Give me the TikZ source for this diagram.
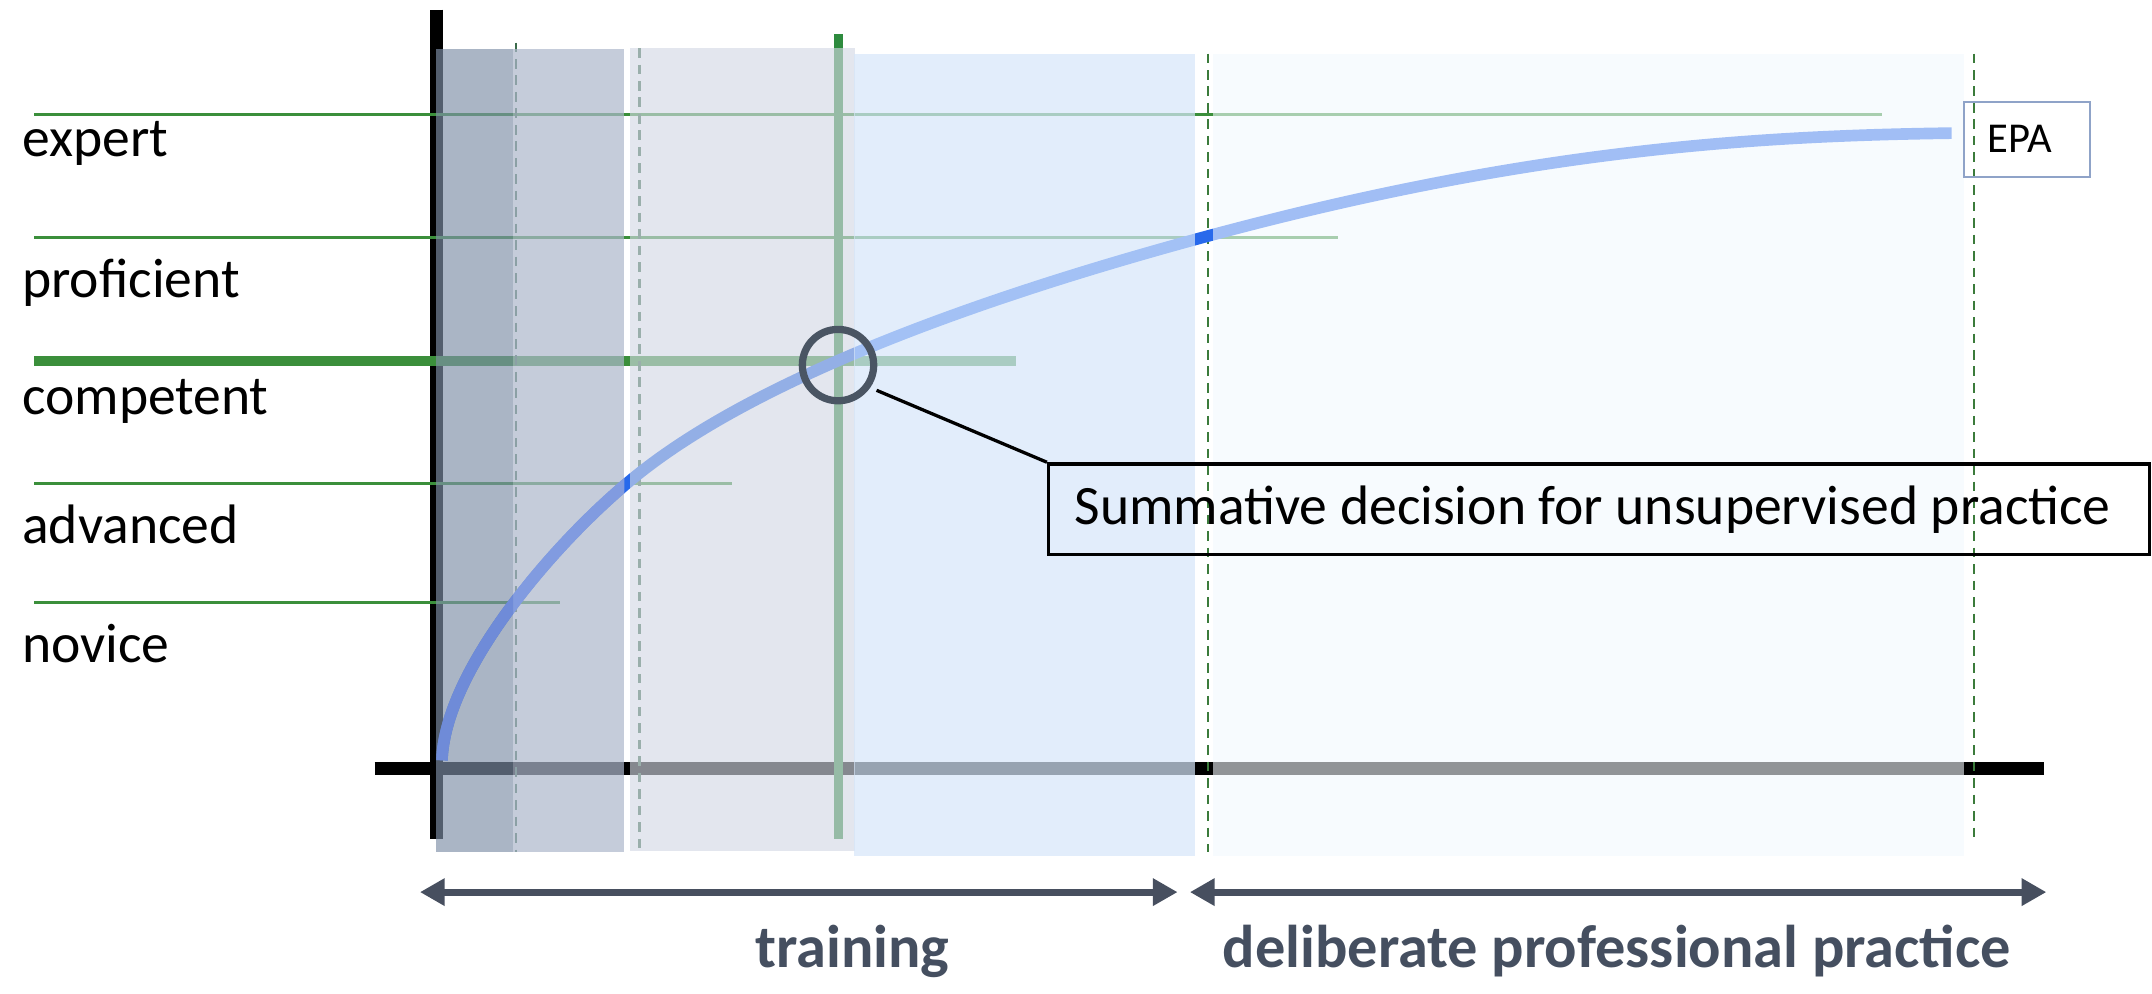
\documentclass[tikz,border=0pt]{standalone}
\usepackage{fontspec}
\setmainfont{Carlito}
\usetikzlibrary{arrows.meta}
\definecolor{lvgreen}{HTML}{3B8F3B}
\definecolor{dgreen}{HTML}{2E8B3E}
\definecolor{dashgreen}{HTML}{3B7B3B}
\definecolor{dashgray}{HTML}{3B6B4B}
\definecolor{curveblue}{HTML}{2869EB}
\definecolor{curveA}{HTML}{6F8BD8}
\definecolor{curveB}{HTML}{819BE0}
\definecolor{ovA}{HTML}{7E8FA7}
\definecolor{ovB}{HTML}{ADB7CB}
\definecolor{ovC}{HTML}{D3D8E4}
\definecolor{ovD}{HTML}{D6E6FA}
\definecolor{ovE}{HTML}{F2F8FD}
\definecolor{ringgray}{HTML}{4A5563}
\definecolor{epaedge}{HTML}{8FA3C8}
\definecolor{arrowslate}{HTML}{474F5F}
\definecolor{phasetext}{HTML}{454F60}
\newcommand\lcurvepath{(322,554) .. controls (324,490) and (400,400) .. (457,352) .. controls (550,273) and (730,212.5) .. (880,172) .. controls (1110,110) and (1272,99) .. (1422,97)}
\begin{document}
\begin{tikzpicture}[x=1pt,y=-1pt,
  axisline/.style={draw=black, line width=9.7pt},
  lvl/.style={draw=lvgreen, line width=2.2pt},
  lvlthick/.style={draw=lvgreen, line width=7pt},
  dashA/.style={draw=dashgray, line width=1.6pt, dash pattern=on 7pt off 5pt},
  dashB/.style={draw=dashgreen, line width=1.6pt, dash pattern=on 7pt off 5pt},
  curve/.style={draw=curveblue, line width=8.5pt},
  lbl/.style={anchor=base west, font=\fontsize{40.5}{46}\selectfont, text=black, inner sep=0pt},
  phase/.style={anchor=base, font=\fontsize{44}{50}\selectfont\bfseries, text=phasetext, inner sep=0pt},
  span/.style={draw=arrowslate, line width=5pt, {Triangle[length=18pt,width=19pt]}-{Triangle[length=18pt,width=19pt]}}
]
\useasboundingbox (0,0) rectangle (1568,724);

% ---------- base layer ----------
\draw[axisline] (273,560) -- (1489,560);
\draw[axisline] (318.2,7) -- (318.2,611);

% level lines
\draw[lvl] (25,83.3) -- (1371,83.3);
\draw[lvl] (25,173.2) -- (975,173.2);
\draw[lvlthick] (25,263) -- (740,263);
\draw[lvl] (25,352) -- (533,352);
\draw[lvl] (25,439) -- (408,439);

% dashed guides
\draw[dashA] (376,31) -- (376,621);
\draw[dashA] (466,35) -- (466,621);
\draw[dashB] (880,39) -- (880,621);
\draw[dashB] (1438,39) -- (1438,614);

% decision line
\draw[draw=dgreen, line width=6pt] (611,25) -- (611,611);

% learning curve
\draw[curve] \lcurvepath;

% ---------- translucent phase overlays ----------
\fill[ovA, fill opacity=0.66] (318,36) rectangle (374,621);
\fill[ovB, fill opacity=0.71] (374,36) rectangle (455,621);
\fill[ovC, fill opacity=0.63] (459,35) rectangle (623,620);
\fill[ovD, fill opacity=0.71] (622,39) rectangle (871,624);
\fill[ovE, fill opacity=0.60] (884,39) rectangle (1431,624);

% curve tint inside the darker phases
\begin{scope}
  \clip (318,36) rectangle (374,621);
  \draw[curve, draw=curveA] \lcurvepath;
\end{scope}
\begin{scope}
  \clip (374,36) rectangle (455,621);
  \draw[curve, draw=curveB] \lcurvepath;
\end{scope}

% ---------- labels ----------
\node[lbl] (lexp) at (16,114) {expert};
\node[lbl] (lpro) at (16,217) {proficient};
\node[lbl] (lcom) at (16,302) {competent};
\node[lbl] (ladv) at (16,396) {advanced};
\node[lbl] (lnov) at (16,483) {novice};

% EPA box
\node[draw=epaedge, line width=1.5pt, minimum width=92pt, minimum height=55pt, inner sep=0pt,
      font=\fontsize{31}{35}\selectfont] (epa) at (1477,101.5) {EPA\hspace*{11pt}};

% callout
\node[draw=ringgray, line width=5.3pt, circle, minimum size=52pt, inner sep=0pt] (dec) at (610.6,266) {};
\node[draw=black, line width=2.4pt, minimum width=802pt, minimum height=66pt, inner sep=0pt,
      font=\fontsize{40.5}{46}\selectfont] (sum) at (1165,371) {Summative decision for unsupervised practice\hspace*{9pt}};
\draw[black, line width=2.4pt, shorten <=5pt] (dec.-35) -- (sum.north west);

% phase spans
\coordinate (trA) at (306,650);
\coordinate (trB) at (858,650);
\coordinate (dpA) at (867,650);
\coordinate (dpB) at (1491,650);
\draw[span] (trA) -- (trB);
\draw[span] (dpA) -- (dpB);
\node[phase] (ltrain) at (621,705) {training};
\node[phase] (ldpp) at (1178,705) {deliberate professional practice};
\end{tikzpicture}
\end{document}
